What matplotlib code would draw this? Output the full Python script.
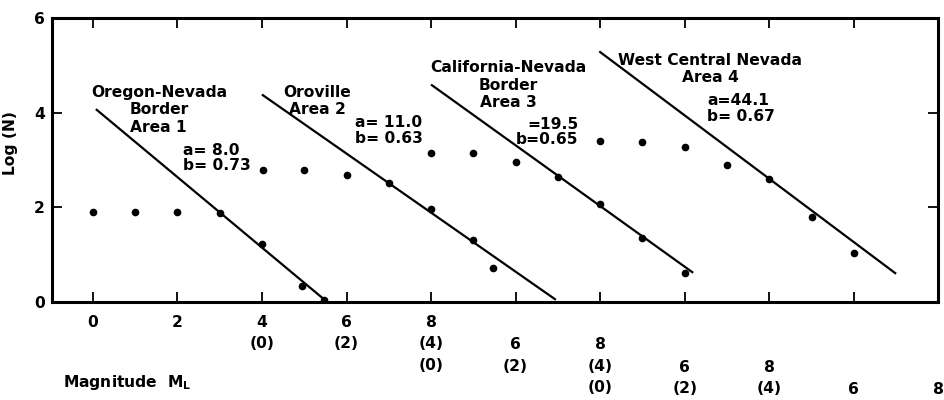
import matplotlib
matplotlib.use("Agg")
import matplotlib.pyplot as plt
import matplotlib.transforms as mtransforms

plt.rcParams['font.family'] = ['DejaVu Sans']
plt.rcParams['font.weight'] = 'bold'

# magnitude on one running axis (each area shifted by 4 units)
area1_x = [0, 1, 2, 3, 4, 4.95, 5.47]
area1_y = [1.90, 1.90, 1.90, 1.88, 1.22, 0.34, 0.04]
area2_x = [4.03, 5, 6, 7, 8, 9, 9.47]
area2_y = [2.79, 2.79, 2.68, 2.51, 1.96, 1.32, 0.72]
area3_x = [8, 9, 10, 11, 12, 13, 14]
area3_y = [3.14, 3.14, 2.95, 2.65, 2.07, 1.36, 0.61]
area4_x = [12, 13, 14, 15, 16, 17, 18]
area4_y = [3.40, 3.37, 3.27, 2.89, 2.60, 1.79, 1.03]

# fitted lines (start, end)
fit1_x = [0.09, 5.49]
fit1_y = [4.06, 0.04]
fit2_x = [4.02, 10.93]
fit2_y = [4.37, 0.06]
fit3_x = [8.02, 14.18]
fit3_y = [4.58, 0.63]
fit4_x = [12.0, 18.98]
fit4_y = [5.28, 0.61]

area_names = ["Oregon-Nevada\nBorder\nArea 1", "Oroville\nArea 2",
              "California-Nevada\nBorder\nArea 3", "West Central Nevada\nArea 4"]
area_params = ["a= 8.0\nb= 0.73", "a= 11.0\nb= 0.63", "=19.5\nb=0.65", "a=44.1\nb= 0.67"]

xtick_pos = [0, 2, 4, 6, 8, 10, 12, 14, 16, 18, 20]
xtick_labels = ["0", "2", "4\n(0)", "6\n(2)", "8\n(4)\n(0)", "6\n(2)",
                "8\n(4)\n(0)", "6\n(2)", "8\n(4)", "6", "8"]
xtick_row = [0, 0, 0, 0, 0, 1, 1, 2, 2, 3, 3]

fig = plt.figure(figsize=(9.44, 4.0), dpi=100)
ax = fig.add_axes([0.055, 0.245, 0.939, 0.71])

for xs, ys in [(area1_x, area1_y), (area2_x, area2_y), (area3_x, area3_y), (area4_x, area4_y)]:
    ax.plot(xs, ys, 'o', color='black', markersize=4.5, zorder=3)
for xs, ys in [(fit1_x, fit1_y), (fit2_x, fit2_y), (fit3_x, fit3_y), (fit4_x, fit4_y)]:
    ax.plot(xs, ys, '-', color='black', linewidth=1.6)

ax.set_xlim(-0.97, 20.0)
ax.set_ylim(0, 6)

fs = 11.2
# area names
ax.text(1.56, 4.06, area_names[0], ha='center', va='center', fontsize=fs, linespacing=1.2)
ax.text(5.3, 4.25, area_names[1], ha='center', va='center', fontsize=fs, linespacing=1.2)
ax.text(9.82, 4.58, area_names[2], ha='center', va='center', fontsize=fs, linespacing=1.2)
ax.text(14.6, 4.92, area_names[3], ha='center', va='center', fontsize=fs, linespacing=1.2)
# a, b values
ax.text(2.13, 3.04, area_params[0], ha='left', va='center', fontsize=fs, linespacing=1.05)
ax.text(6.2, 3.62, area_params[1], ha='left', va='center', fontsize=fs, linespacing=1.05)
ax.text(11.48, 3.59, area_params[2], ha='right', va='center', fontsize=fs, linespacing=1.05)
ax.text(14.53, 4.09, area_params[3], ha='left', va='center', fontsize=fs, linespacing=1.05)

# ticks
ax.set_xticks(xtick_pos[:-1])
ax.set_xticklabels([])
ax.set_yticks([0, 2, 4, 6])
ax.set_yticklabels(["0", "2", "4", "6"], fontsize=fs)
ax.tick_params(axis='both', direction='in', length=7, width=1.3,
               top=True, right=True, pad=5)

# multi-row x labels, stacked under the axis
trans = mtransforms.blended_transform_factory(ax.transData, ax.transAxes)
row_h = 22.5 / 284.0
for x, lab, r in zip(xtick_pos, xtick_labels, xtick_row):
    ax.text(x, -0.045 - r * row_h, lab, transform=trans, ha='center', va='top',
            fontsize=fs, linespacing=1.55)

ax.text(0.012, -0.285, r'Magnitude  M$_\mathbf{L}$', transform=ax.transAxes,
        ha='left', va='center', fontsize=fs)

ax.set_ylabel("Log (N)", fontsize=fs, fontweight='bold')
ax.yaxis.set_label_coords(-0.038, 0.56)

for s in ax.spines.values():
    s.set_linewidth(2.2)

fig.savefig("out.png", dpi=100)
